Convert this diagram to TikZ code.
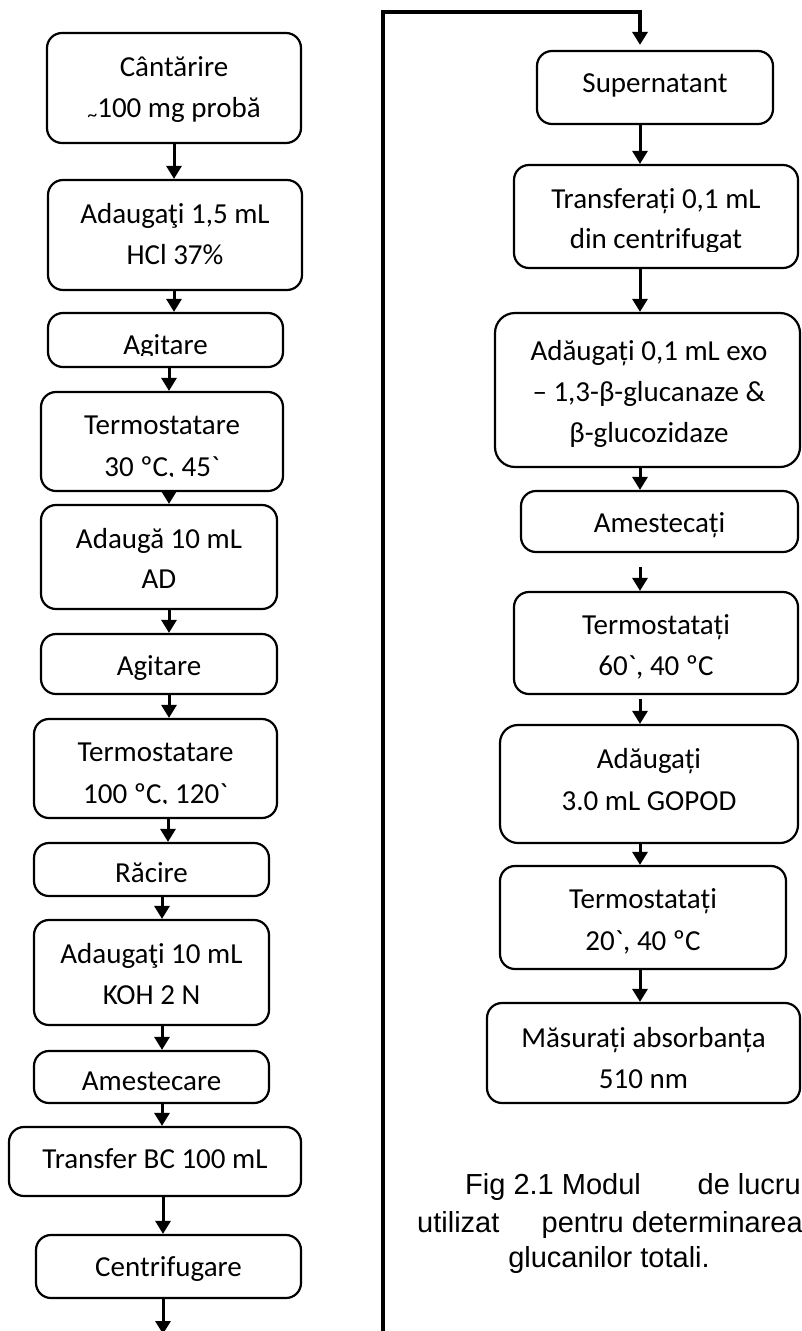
\documentclass[tikz,border=0pt]{standalone}
\usepackage{fontspec}
\newfontfamily\calib{Carlito}
\newfontfamily\capfont{Liberation Sans}
\usetikzlibrary{arrows.meta,calc}
\begin{document}
\begin{tikzpicture}[x=1pt,y=-1pt,
  box/.style={draw, line width=2.2pt, rounded corners=15pt, inner sep=0pt},
  txt/.style={anchor=base, inner sep=0pt, font=\calib\fontsize{29}{35}\selectfont},
  captxt/.style={inner sep=0pt, font=\capfont\fontsize{29}{35}\selectfont},
  arr/.style={line width=3pt, -{Triangle[width=15pt,length=13pt]}},
  longarr/.style={line width=3.6pt, -{Triangle[width=15pt,length=13pt]}}
]
\fill[white] (0,0) rectangle (801,1331);
\useasboundingbox (0,0) rectangle (801,1331);

% ---------- left column ----------
\node[box, minimum width=254pt, minimum height=110pt] (b1) at (174,88) {};
\node[box, minimum width=254pt, minimum height=110pt] (b2) at (175,235) {};
\node[box, minimum width=235pt, minimum height=54pt]  (b3) at (165.5,340) {};
\node[box, minimum width=242pt, minimum height=99pt]  (b4) at (162,441.5) {};
\node[box, minimum width=236pt, minimum height=104pt] (b5) at (159,557) {};
\node[box, minimum width=236pt, minimum height=60pt]  (b6) at (159,664) {};
\node[box, minimum width=243pt, minimum height=99pt]  (b7) at (155.5,768.5) {};
\node[box, minimum width=235pt, minimum height=53pt]  (b8) at (151.5,869.5) {};
\node[box, minimum width=235pt, minimum height=105pt] (b9) at (151.5,972.5) {};
\node[box, minimum width=235pt, minimum height=52pt]  (b10) at (151.5,1077) {};
\node[box, minimum width=292pt, minimum height=69pt]  (b11) at (155,1161.5) {};
\node[box, minimum width=265pt, minimum height=63pt]  (b12) at (168.5,1266.5) {};

\node[txt] (t1a) at (174,76) {Cântărire};
\node[txt] (t1b) at (174,117) {{\fontsize{20}{20}\selectfont\raisebox{-4pt}{\textasciitilde}}100 mg probă};
\node[txt] (t2a) at (175,223) {Adaugaţi 1,5 mL};
\node[txt] (t2b) at (175,264) {HCl 37\%};
\begin{scope}
  \clip (40,300) rectangle (300,355.5);
  \node[txt] (t3) at (165.5,354.5) {Agitare};
\end{scope}
\node[txt] (t4a) at (162,434) {Termostatare};
\begin{scope}
  \clip (40,440) rectangle (300,476.5);
  \node[txt] (t4b) at (162,476) {30 ºC, 45`};
\end{scope}
\node[txt] (t5a) at (159,548) {Adaugă 10 mL};
\node[txt] (t5b) at (159,588) {AD};
\node[txt] (t6) at (159,675) {Agitare};
\node[txt] (t7a) at (155.5,761) {Termostatare};
\begin{scope}
  \clip (30,770) rectangle (290,803.5);
  \node[txt] (t7b) at (155.5,803) {100 ºC, 120`};
\end{scope}
\node[txt] (t8) at (151.5,882) {Răcire};
\node[txt] (t9a) at (151.5,963) {Adaugaţi 10 mL};
\node[txt] (t9b) at (151.5,1004) {KOH 2 N};
\node[txt] (t10) at (151.5,1090) {Amestecare};
\node[txt] (t11) at (155,1168) {Transfer BC 100 mL};
\node[txt] (t12) at (168.5,1276) {Centrifugare};

% left arrows
\coordinate (xa) at (174,0);
\coordinate (xb) at (169,0);
\coordinate (xc) at (168,0);
\coordinate (xd) at (162,0);
\coordinate (xe) at (163,0);
\coordinate (xr) at (640,0);
\coordinate (lend) at (163,1334);

\draw[arr] (b1.south -| xa) -- (b2.north -| xa);
\draw[arr] (b2.south -| xa) -- (b3.north -| xa);
\draw[arr] (b3.south -| xb) -- (b4.north -| xb);
\draw[arr] (b4.south -| xb) -- (b5.north -| xb);
\draw[arr] (b5.south -| xb) -- (b6.north -| xb);
\draw[arr] (b6.south -| xb) -- (b7.north -| xb);
\draw[arr] (b7.south -| xc) -- (b8.north -| xc);
\draw[arr] (b8.south -| xd) -- (b9.north -| xd);
\draw[arr] (b9.south -| xd) -- (b10.north -| xd);
\draw[arr] (b10.south -| xd) -- (b11.north -| xd);
\draw[arr] (b11.south -| xe) -- (b12.north -| xe);
\draw[arr] (b12.south -| xe) -- (lend);

% ---------- right column ----------
\node[box, minimum width=236pt, minimum height=73pt]  (r1) at (655,87.5) {};
\node[box, minimum width=284pt, minimum height=103pt] (r2) at (656,216.5) {};
\node[box, minimum width=305pt, minimum height=154pt, rounded corners=20pt] (r3) at (647.5,390) {};
\node[box, minimum width=277pt, minimum height=61pt]  (r4) at (659.5,521.5) {};
\node[box, minimum width=284pt, minimum height=102pt] (r5) at (656,643) {};
\node[box, minimum width=298pt, minimum height=118pt, rounded corners=18pt] (r6) at (649,784) {};
\node[box, minimum width=286pt, minimum height=103pt] (r7) at (643,917.5) {};
\node[box, minimum width=313pt, minimum height=100pt] (r8) at (643.5,1053) {};

\node[txt] (s1) at (655,92) {Supernatant};
\node[txt] (s2a) at (656,208) {Transferați 0,1 mL};
\begin{scope}
  \clip (510,220) rectangle (800,251);
  \node[txt] (s2b) at (656,248.5) {din centrifugat};
\end{scope}
\node[txt] (s3a) at (649,360) {Adăugați 0,1 mL exo};
\node[txt] (s3b) at (649,401) {– 1,3-β-glucanaze \&};
\node[txt] (s3c) at (649,442) {β-glucozidaze};
\node[txt] (s4) at (659.5,532) {Amestecați};
\node[txt] (s5a) at (656,634) {Termostatați};
\node[txt] (s5b) at (656,675) {60`, 40 ºC};
\node[txt] (s6a) at (649,768) {Adăugați};
\node[txt] (s6b) at (649,810) {3.0 mL GOPOD};
\node[txt] (s7a) at (643,908) {Termostatați};
\node[txt] (s7b) at (643,950) {20`, 40 ºC};
\node[txt] (s8a) at (643.5,1047) {Măsurați absorbanța};
\node[txt] (s8b) at (643.5,1088) {510 nm};

% long connector
\coordinate (lb) at (383,1340);
\coordinate (lt) at (383,12);
\draw[longarr, shorten >=5pt] (lb) -- (lt) -- (lt -| xr) -- (r1.north -| xr);

% right arrows
\coordinate (g1) at (640,567);
\draw[arr] (r1.south -| xr) -- (r2.north -| xr);
\draw[arr] (r2.south -| xr) -- (r3.north -| xr);
\draw[arr] (r3.south -| xr) -- (r4.north -| xr);
\draw[arr] (g1) -- (r5.north -| xr);
\draw[arr, shorten <=4pt] (r5.south -| xr) -- (r6.north -| xr);
\draw[arr] (r6.south -| xr) -- (r7.north -| xr);
\draw[arr] (r7.south -| xr) -- (r8.north -| xr);

% caption
\node[captxt, anchor=base west] (c1a) at (465,1194) {Fig 2.1 Modul};
\node[captxt, anchor=base east] (c1b) at (801,1194) {de lucru};
\node[captxt, anchor=base west] (c2a) at (417,1232) {utilizat};
\node[captxt, anchor=base east] (c2b) at (803,1232) {pentru determinarea};
\node[captxt, anchor=base] (c3) at (609,1267) {glucanilor totali.};
\end{tikzpicture}
\end{document}
